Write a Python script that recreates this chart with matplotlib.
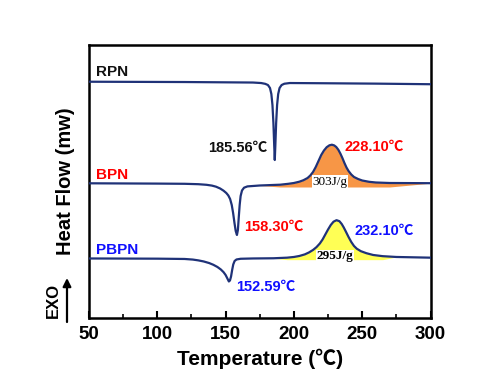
import matplotlib.pyplot as plt
import numpy as np

# DSC curves (temperature in C, heat flow in arbitrary units)
rpn_t = [50, 120, 170, 176, 179, 181, 182.5, 183.5, 184.3, 185, 185.6, 186, 186.4, 187, 187.7,
         188.5, 189.5, 191, 193, 197, 220, 260, 300]
rpn_h = [236.3, 236, 235.5, 235, 234.2, 233, 230, 224, 213, 195, 172, 158, 172, 195, 213,
         224, 230, 233, 234.3, 235, 234.8, 234.4, 233.8]

bpn_t = [50, 100, 120, 130, 136, 140, 143, 146, 148.5, 150.5, 152, 153.3, 154.5, 155.5, 156.5,
         157.4, 158.3, 159, 159.6, 160.3, 161, 162, 163.5, 166, 175, 190, 196, 200, 204, 207,
         210, 212, 214, 216, 218, 220, 222, 224, 226, 227.8, 229.5, 231, 232.5, 234, 235.5, 237,
         238.5, 240, 242, 244, 247, 250, 255, 260, 270, 300]
bpn_h = [134.7, 134.4, 134.2, 133.8, 133.2, 132.4, 131.3, 129.5, 127.3, 125, 122.5, 119, 113, 105, 95,
         87, 83, 88, 100, 113, 122, 127.5, 130.3, 131.6, 132.5, 133.3, 134.2, 135, 136.3, 137.8,
         140, 142.5, 146, 151, 157, 163, 167.5, 170.8, 172.7, 173.3, 172.6, 171, 168.3, 164.5, 160, 155,
         150.5, 147, 143.5, 141, 139, 137.5, 136.2, 135.5, 135, 134.8]

pbpn_t = [50, 100, 120, 126, 130, 134, 138, 141, 144, 146.5, 148.5, 150, 151.3, 152.4, 153.2, 154,
          154.8, 155.6, 156.6, 158, 161, 170, 185, 195, 200, 204, 208, 211, 214, 216.5, 219, 221,
          223, 225, 227, 229, 231.2, 233.3, 235, 236.5, 238, 240, 242, 244, 246, 249, 253, 258,
          265, 275, 300]
pbpn_h = [59.5, 59.3, 59, 58.4, 57.6, 56.5, 54.9, 53.2, 51, 48.5, 45.8, 43, 39.5, 36.5, 37.5, 41.5,
          48, 53.5, 57, 58.5, 59.2, 59.5, 59.7, 60.3, 61, 62, 63.6, 65.5, 68, 70.8, 74.5, 78.5,
          83.5, 88.5, 93, 96.3, 97.8, 96.8, 94, 90.5, 86.5, 81, 76, 72, 69.3, 66.8, 64.8, 63,
          61.8, 61, 60.3]

bpn_base = 131
pbpn_base = 58.3
bpn_range = (186, 272)
pbpn_range = (191, 274)

line_c = '#1f3278'
cjk = ['Liberation Sans', 'Noto Sans CJK SC', 'DejaVu Sans']

fig = plt.figure(figsize=(5, 3.84), dpi=100)
ax = fig.add_axes([0.178, 0.172, 0.683, 0.712])

for t, h in [(rpn_t, rpn_h), (bpn_t, bpn_h), (pbpn_t, pbpn_h)]:
    ax.plot(t, h, color=line_c, lw=1.6, zorder=3, solid_joinstyle='round')

bt = np.array(bpn_t); bh = np.array(bpn_h)
ax.fill_between(bt, bh, bpn_base, where=(bt >= bpn_range[0]) & (bt <= bpn_range[1]),
                color='#f79646', lw=0, zorder=1, interpolate=True)
pt = np.array(pbpn_t); ph = np.array(pbpn_h)
ax.fill_between(pt, ph, pbpn_base, where=(pt >= pbpn_range[0]) & (pt <= pbpn_range[1]),
                color='#ffff55', lw=0, zorder=1, interpolate=True)

ax.set_xlim(50, 300)
ax.set_ylim(0, 273.5)
ax.set_yticks([])
ax.set_xticks([50, 100, 150, 200, 250, 300])
ax.set_xticks([75, 125, 175, 225, 275], minor=True)
ax.tick_params(axis='x', which='major', direction='in', length=5, width=1.5, pad=6)
ax.tick_params(axis='x', which='minor', direction='in', length=3, width=1.2)
for lab in ax.get_xticklabels():
    lab.set_fontweight('bold')
    lab.set_fontsize(13.5)
    lab.set_family(cjk)
for s in ax.spines.values():
    s.set_linewidth(1.8)

ax.set_xlabel('Temperature (℃)', fontsize=15, fontweight='bold', family=cjk, labelpad=4)
ax.set_ylabel('Heat Flow (mw)', fontsize=14.5, fontweight='bold', family=cjk, labelpad=10)

kw = dict(fontweight='bold', family=cjk, va='center')
ax.text(55.1, 246, 'RPN', color='#111111', fontsize=11, **kw)
ax.text(55.1, 143, 'BPN', color='#ff0000', fontsize=11, **kw)
ax.text(55.1, 68, 'PBPN', color='#1010ff', fontsize=11, **kw)
ax.text(180.7, 170, '185.56℃', color='#111111', fontsize=10.5, ha='right', **kw)
ax.text(237.2, 171, '228.10℃', color='#ff0000', fontsize=10.5, ha='left', **kw)
ax.text(163.8, 91, '158.30℃', color='#ff0000', fontsize=10.5, ha='left', **kw)
ax.text(244.6, 87, '232.10℃', color='#1010ff', fontsize=10.5, ha='left', **kw)
ax.text(157.9, 31, '152.59℃', color='#1010ff', fontsize=10.5, ha='left', **kw)

ax.text(226.7, 136.3, '303J/g', fontsize=9.5, family='Liberation Serif', ha='center', va='center',
        bbox=dict(facecolor='white', edgecolor='none', pad=0.3), zorder=2)
ax.text(229.9, 62, '295J/g', fontsize=9.5, family='Liberation Serif', fontweight='bold', ha='center',
        va='center', bbox=dict(facecolor='white', edgecolor='none', pad=0.3), zorder=2)

fig.text(53 / 500, 1 - 300 / 384, 'EXO', rotation=90, fontsize=12, fontweight='bold',
         family=cjk, ha='center', va='center')
fig.add_artist(plt.Annotation('', xy=(67 / 500, 1 - 278 / 384), xytext=(67 / 500, 1 - 322 / 384),
                              xycoords='figure fraction',
                              arrowprops=dict(arrowstyle='-|>', color='black', lw=1.6,
                                              mutation_scale=12, shrinkA=0, shrinkB=0)))

fig.savefig('out.png', dpi=100)
